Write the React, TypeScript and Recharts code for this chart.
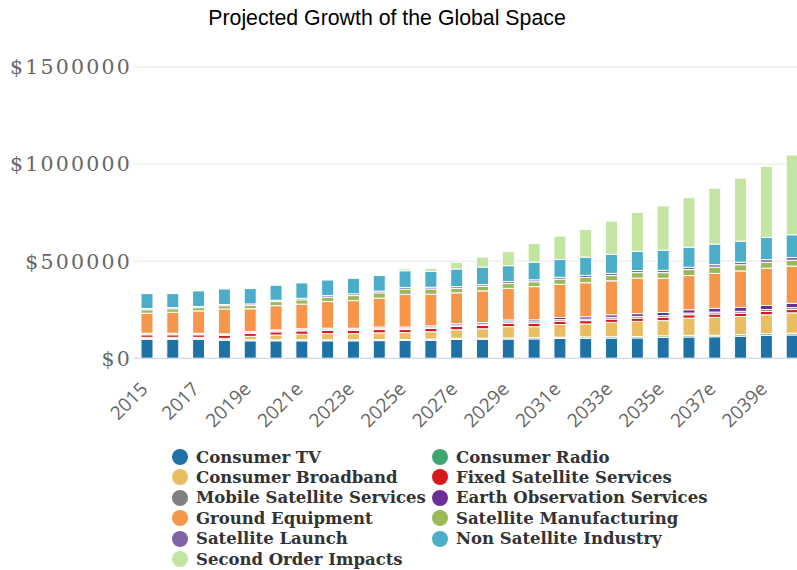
import React from 'react';
import { BarChart, Bar, XAxis, YAxis, CartesianGrid } from 'recharts';

const years = ['2015','2016','2017','2018e','2019e','2020e','2021e','2022e','2023e','2024e','2025e','2026e','2027e','2028e','2029e','2030e','2031e','2032e','2033e','2034e','2035e','2036e','2037e','2038e','2039e','2040e'];

const consumerTV = [98000,98000,98000,92000,90000,90000,90000,90000,90000,91000,92000,93000,97000,98000,99000,100000,102000,103000,104000,105000,108000,110000,111000,114000,118000,120000];
const consumerRadio = [4000,4000,4000,4000,5000,5000,5000,5000,5000,5000,5000,6000,6000,6000,6000,7000,7000,7000,7000,7000,8000,8000,8000,8000,9000,9000];
const consumerBroadband = [6000,6000,6000,7000,18000,25000,29000,32000,32000,35000,35000,38000,44000,48000,58000,56000,65000,67000,74000,78000,78000,89000,92000,93000,97000,105000];
const fixedSatellite = [13000,13000,13000,15000,15000,16000,17000,17000,17000,17000,16000,17000,17000,17000,17000,17000,17000,17000,17000,17000,17000,17000,17000,17000,17000,17000];
const mobileSatellite = [5000,5000,5000,5000,6000,6000,6000,6000,6000,7000,7000,7000,7000,7000,8000,8000,8000,8000,9000,9000,9000,9000,10000,10000,10000,10000];
const earthObservation = [3000,3000,3000,3000,4000,4000,5000,5000,5000,6000,6000,6000,7000,8000,9000,10000,11000,12000,13000,14000,16000,17000,19000,20000,21000,22000];
const groundEquipment = [103000,108000,115000,128000,117000,125000,127000,137000,142000,149000,168000,163000,159000,163000,163000,171000,171000,175000,175000,183000,176000,176000,180000,188000,192000,192000];
const satelliteManufacturing = [18000,18000,17000,17000,18000,21000,22000,23000,26000,27000,27000,27000,23000,23000,25000,25000,26000,27000,27000,28000,29000,31000,32000,32000,30000,30000];
const satelliteLaunch = [6000,6000,6000,6000,7000,7000,8000,8000,9000,9000,9000,9000,9000,9000,10000,10000,10000,11000,11000,11000,12000,12000,13000,13000,14000,14000];
const nonSatelliteIndustry = [77000,72000,80000,80000,79000,77000,79000,80000,80000,80000,86000,82000,91000,91000,82000,91000,92000,94000,98000,99000,104000,103000,106000,108000,115000,117000];
const secondOrderImpacts = [0,0,0,0,0,0,0,0,0,0,10000,15000,34000,51000,72000,96000,120000,142000,171000,200000,228000,255000,288000,325000,366000,411000];

const yTicks = [0, 500000, 1000000, 1500000];

const series = [
  { key: 'tv', name: 'Consumer TV', color: '#1f72a6', values: consumerTV },
  { key: 'radio', name: 'Consumer Radio', color: '#3fa56c', values: consumerRadio },
  { key: 'broadband', name: 'Consumer Broadband', color: '#e9bd62', values: consumerBroadband },
  { key: 'fss', name: 'Fixed Satellite Services', color: '#d7191c', values: fixedSatellite },
  { key: 'mss', name: 'Mobile Satellite Services', color: '#808080', values: mobileSatellite },
  { key: 'eo', name: 'Earth Observation Services', color: '#6b2e96', values: earthObservation },
  { key: 'ground', name: 'Ground Equipment', color: '#f6964b', values: groundEquipment },
  { key: 'manuf', name: 'Satellite Manufacturing', color: '#9cb95a', values: satelliteManufacturing },
  { key: 'launch', name: 'Satellite Launch', color: '#8064a6', values: satelliteLaunch },
  { key: 'nonsat', name: 'Non Satellite Industry', color: '#4badc8', values: nonSatelliteIndustry },
  { key: 'second', name: 'Second Order Impacts', color: '#c4e4a1', values: secondOrderImpacts },
];

const data = years.map((year, i) => {
  const row: Record<string, string | number> = { year };
  series.forEach((s) => { row[s.key] = s.values[i]; });
  return row;
});

const XTick = (props: any) => {
  const { x, y, payload } = props;
  const ty = y + 24;
  return (
    <text x={x + 2} y={ty} transform={`rotate(-45 ${x + 2} ${ty})`} textAnchor="end"
      fill="#666" fontFamily="'Open Sans', sans-serif" fontSize={19}>
      {payload.value}
    </text>
  );
};

const YTick = (props: any) => {
  const { y, payload } = props;
  return (
    <text x={132} y={y} dy="0.36em" textAnchor="end" fill="#666"
      fontFamily="'DejaVu Serif', serif" fontSize={20.5} letterSpacing={2.2}>
      {'$' + payload.value}
    </text>
  );
};

export default function App() {
  return (
    <div style={{ position: 'absolute', left: 0, top: 0, width: 797, height: 570, overflow: 'hidden', background: '#fff' }}>
      <svg width={797} height={40} style={{ position: 'absolute', left: 0, top: 0 }}>
        <text x={387} y={25} textAnchor="middle" fontFamily="'Liberation Sans', Arial, sans-serif" fontSize={21.3} fill="#000">
          Projected Growth of the Global Space
        </text>
      </svg>
      <div style={{ position: 'absolute', left: 0, top: 0 }}>
        <BarChart width={806} height={570} data={data} margin={{ top: 67, right: 1, bottom: 0, left: 0 }} barSize={12}>
          <CartesianGrid vertical={false} stroke="#e6e6e6" />
          <XAxis dataKey="year" interval={1} height={211.7} tickLine={false} axisLine={{ stroke: '#ccd6eb' }} tick={<XTick />} />
          <YAxis width={134} domain={[0, 1500000]} ticks={yTicks} axisLine={false} tickLine={false} tick={<YTick />} />
          {series.map((s) => (
            <Bar key={s.key} dataKey={s.key} name={s.name} stackId="a" fill={s.color} stroke="#fff" strokeWidth={1} isAnimationActive={false} />
          ))}
        </BarChart>
      </div>
      <div style={{ position: 'absolute', left: 0, top: 0 }}>
        {series.map((s, i) => {
          const col = i % 2;
          const row = Math.floor(i / 2);
          return (
            <div key={s.key} style={{ position: 'absolute', left: col === 0 ? 172 : 432, top: 447 + row * 20.4, display: 'flex', alignItems: 'center', whiteSpace: 'nowrap', height: 20 }}>
              <span style={{ display: 'inline-block', width: 16, height: 16, borderRadius: '50%', background: s.color, marginRight: 8 }} />
              <span style={{ fontFamily: "'DejaVu Serif', serif", fontWeight: 'bold', fontSize: 16.5, color: '#333' }}>{s.name}</span>
            </div>
          );
        })}
      </div>
    </div>
  );
}
